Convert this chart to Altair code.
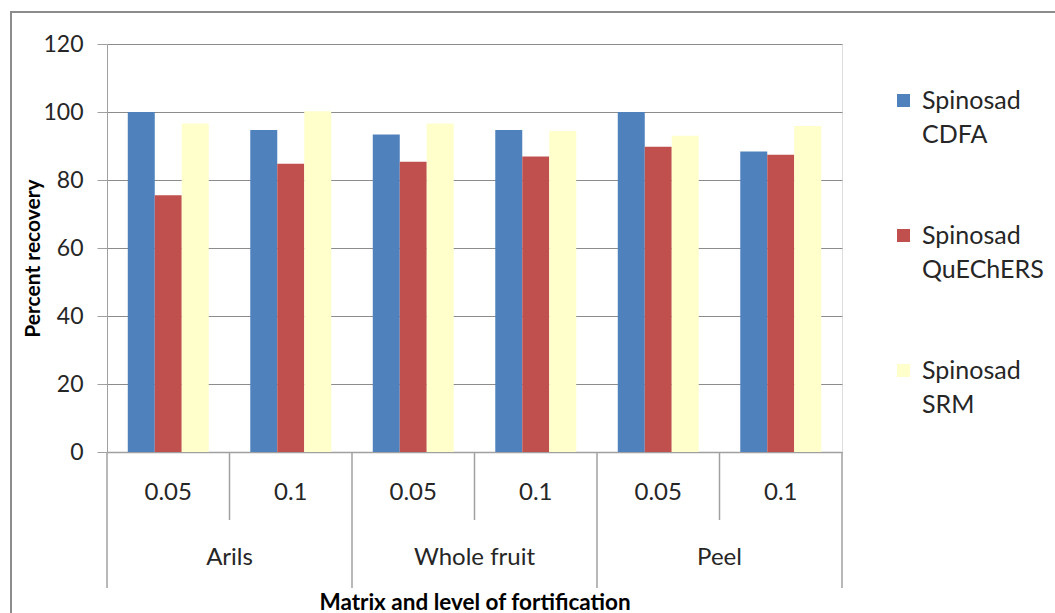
import altair as alt
import pandas as pd

# ---- data ----
matrices = ["Arils", "Arils", "Whole fruit", "Whole fruit", "Peel", "Peel"]
levels = ["0.05", "0.1", "0.05", "0.1", "0.05", "0.1"]
series = ["Spinosad CDFA", "Spinosad QuEChERS", "Spinosad SRM"]
cdfa = [100.0, 94.7, 93.4, 94.7, 100.0, 88.4]
quechers = [75.5, 84.8, 85.4, 86.9, 89.8, 87.4]
srm = [96.6, 100.2, 96.6, 94.4, 93.0, 95.9]
colors = ["#4F81BD", "#C0504D", "#FFFFCC"]
group_names = ["Arils", "Whole fruit", "Peel"]

cats = [f"{m}|{l}" for m, l in zip(matrices, levels)]
rows = []
for s, vals in zip(series, [cdfa, quechers, srm]):
    for c, v in zip(cats, vals):
        rows.append({"cat": c, "series": s, "value": v})
df = pd.DataFrame(rows)

FONT = "Lato"
W, H = 735, 408

xenc = alt.X(
    "cat:N", sort=cats,
    scale=alt.Scale(paddingInner=0, paddingOuter=0),
    axis=alt.Axis(
        title="Matrix and level of fortification",
        labelExpr="split(datum.label, '|')[1]",
        labelAngle=0, labelFontSize=24, labelColor="#262626", labelPadding=28,
        ticks=False, domainColor="#A0A0A0", domainWidth=1.5,
        titleFontSize=22.5, titleFontWeight="bold", titleColor="#000000",
        titleY=157, titleX=W / 2, titleBaseline="alphabetic",
    ),
)

bars = alt.Chart(df).mark_bar(stroke=None).encode(
    x=xenc,
    xOffset=alt.XOffset("series:N", sort=series,
                        scale=alt.Scale(paddingInner=0, paddingOuter=0.77)),
    y=alt.Y("value:Q",
            scale=alt.Scale(domain=[0, 120], nice=False),
            axis=alt.Axis(
                title="Percent recovery", values=list(range(0, 121, 20)),
                grid=True, gridColor="#8C8C8C", gridWidth=1,
                tickSize=10, tickColor="#A0A0A0", domainColor="#A0A0A0",
                labelFontSize=23, labelColor="#262626", labelPadding=14,
                titleFontSize=21, titleFontWeight="bold", titleColor="#000000",
                titleAngle=-90, titleX=-74, titleY=H / 2 + 10,
                titleAlign="center", titleBaseline="middle",
            )),
    color=alt.Color("series:N", sort=series,
                    scale=alt.Scale(domain=series, range=colors),
                    legend=alt.Legend(
                        title=None, orient="none", legendX=784, legendY=44,
                        symbolType="square", symbolSize=170, symbolStrokeWidth=0,
                        labelFontSize=25, labelColor="#262626",
                        labelExpr="split(datum.label, ' ')",
                        labelBaseline="middle", labelOffset=6,
                        rowPadding=75, direction="vertical",
                    )),
)

# separators of the two-level category axis
inner_df = pd.DataFrame({"cat": [c for c in cats if c.endswith("|0.1")]})
outer_df = pd.DataFrame({"cat": [c for c in cats if c.endswith("|0.05")]})
end_df = pd.DataFrame({"cat": [cats[-1]]})

inner = alt.Chart(inner_df).mark_rule(color="#A0A0A0", strokeWidth=1.5).encode(
    x=alt.X("cat:N", sort=cats, bandPosition=0),
    y=alt.value(H), y2=alt.value(H + 68),
)
outer = alt.Chart(outer_df).mark_rule(color="#A0A0A0", strokeWidth=1.5).encode(
    x=alt.X("cat:N", sort=cats, bandPosition=0),
    y=alt.value(H), y2=alt.value(H + 136),
)
end = alt.Chart(end_df).mark_rule(color="#A0A0A0", strokeWidth=1.5).encode(
    x=alt.X("cat:N", sort=cats, bandPosition=1),
    y=alt.value(H), y2=alt.value(H + 136),
)

grp_df = pd.DataFrame({"cat": [c for c in cats if c.endswith("|0.1")],
                       "group": group_names})
groups = alt.Chart(grp_df).mark_text(
    fontSize=24, font=FONT, color="#262626", baseline="middle", align="center"
).encode(
    x=alt.X("cat:N", sort=cats, bandPosition=0),
    y=alt.value(H + 106),
    text="group:N",
)

frame = alt.Chart(alt.Data(values=[{"k": 1}])).mark_rect(
    fill=None, stroke="#8C8C8C", strokeWidth=2
).encode(
    x=alt.value(-96), x2=alt.value(960),
    y=alt.value(-32), y2=alt.value(590),
)

chart = alt.layer(frame, bars, inner, outer, end, groups).properties(
    width=W, height=H,
    autosize=alt.AutoSizeParams(type="none"),
    padding={"left": 107, "top": 44, "right": 213, "bottom": 161},
    background="white",
).configure_view(
    fill="#D9D9D9", stroke=None
).configure(
    font=FONT,
    style={"guide-label": {"lineHeight": 34}},
)

chart.save("out.html", embed_options={"renderer": "svg", "actions": False})
